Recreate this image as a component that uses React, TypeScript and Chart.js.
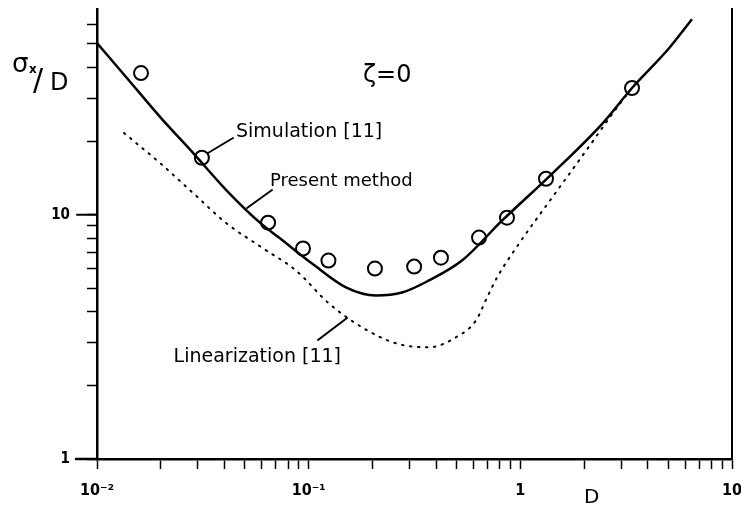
import React, { useEffect, useRef } from 'react';
import { Chart, registerables } from 'chart.js';
Chart.register(...registerables);

const W = 741;
const H = 513;

// Simulation [11] (circles)
const simD = [0.01614, 0.0313, 0.0643, 0.094, 0.124, 0.2056, 0.315, 0.4217, 0.638, 0.865, 1.322, 3.37];
const simSigma = [38.0, 17.1, 9.28, 7.27, 6.49, 6.02, 6.13, 6.67, 8.06, 9.72, 14.03, 33.0];

// Present method (solid line)
const presentD = [0.01, 0.01387, 0.02004, 0.0287, 0.0411, 0.0596, 0.0724, 0.1038, 0.15, 0.208, 0.276, 0.37, 0.53, 0.819, 1.411, 2.43, 3.37, 5.04, 6.47];
const presentSigma = [50.4, 36.2, 24.9, 17.74, 12.53, 9.19, 8.06, 6.31, 5.04, 4.67, 4.8, 5.38, 6.49, 9.45, 14.7, 23.5, 33.0, 48.0, 63.1];

// Linearization [11] (dotted line)
const linD = [0.01342, 0.02004, 0.0287, 0.0411, 0.0602, 0.0871, 0.1247, 0.1787, 0.2587, 0.37, 0.4966, 0.617, 0.696, 0.776, 0.9856, 1.411, 2.042, 2.83, 3.37];
const linSigma = [21.6, 16.15, 12.18, 9.19, 7.33, 5.91, 4.33, 3.46, 2.975, 2.865, 3.15, 3.69, 4.58, 5.53, 7.61, 11.73, 18.25, 27.1, 33.0];

const xTickLabels: Record<string, string> = { '0.01': '10⁻²', '0.1': '10⁻¹', '1': '1', '10': '10' };
const yTickLabels: Record<string, string> = { '1': '1', '10': '10' };

const isNice = (v: number) => {
  const e = Math.floor(Math.log10(v) + 1e-9);
  const m = v / Math.pow(10, e);
  return Math.abs(m - Math.round(m)) < 1e-6;
};
const keyOf = (v: number) => String(parseFloat(v.toPrecision(6)));

const FONT = '"DejaVu Sans", sans-serif';
const TICKFONT = '"DejaVu Sans Condensed", "DejaVu Sans", sans-serif';

const zeroPad = (s: any) => {
  s.paddingLeft = 0;
  s.paddingRight = 0;
  s.paddingTop = 0;
  s.paddingBottom = 0;
};

const overlayPlugin = {
  id: 'overlay',
  afterDraw(chart: any) {
    const { ctx, chartArea, scales } = chart;
    const y = scales.y;
    ctx.save();
    ctx.strokeStyle = '#000';
    ctx.fillStyle = '#000';
    ctx.lineCap = 'round';
    // x-axis extension left of y-axis
    ctx.lineWidth = 2.5;
    ctx.beginPath();
    ctx.moveTo(76, y.getPixelForValue(1));
    ctx.lineTo(chartArea.left, y.getPixelForValue(1));
    ctx.stroke();
    // longer major tick at 10
    ctx.lineWidth = 2;
    ctx.beginPath();
    ctx.moveTo(77, y.getPixelForValue(10));
    ctx.lineTo(chartArea.left, y.getPixelForValue(10));
    ctx.stroke();

    // leader lines
    ctx.lineWidth = 2;
    const leaders = [
      [208, 153, 233, 138],
      [247, 208, 272, 190],
      [318, 340, 347, 318],
    ];
    leaders.forEach(([a, b, c, d]) => {
      ctx.beginPath();
      ctx.moveTo(a, b);
      ctx.lineTo(c, d);
      ctx.stroke();
    });

    // annotation texts
    ctx.textBaseline = 'alphabetic';
    ctx.textAlign = 'left';
    ctx.font = `19px ${FONT}`;
    ctx.fillText('Simulation [11]', 236, 137);
    ctx.font = `18px ${FONT}`;
    ctx.fillText('Present method', 270, 186);
    ctx.font = `19px ${FONT}`;
    ctx.textAlign = 'right';
    ctx.fillText('Linearization [11]', 341, 362);
    ctx.textAlign = 'left';
    ctx.font = `24px ${FONT}`;
    ctx.fillText('ζ=0', 363, 82);

    // y axis title  σx / D
    ctx.font = `26px ${FONT}`;
    ctx.fillText('σ', 12, 72);
    ctx.font = `bold 12px ${FONT}`;
    ctx.fillText('x', 29, 73);
    ctx.font = `30px ${FONT}`;
    ctx.fillText('/', 33, 90);
    ctx.font = `24px ${FONT}`;
    ctx.fillText('D', 50, 90);

    // x axis title
    ctx.font = `20px ${FONT}`;
    ctx.fillText('D', 584, 503);
    ctx.restore();
  },
};

export default function App() {
  const ref = useRef<HTMLCanvasElement>(null);
  useEffect(() => {
    const tickCol = (c: any) => (c.tick && isNice(c.tick.value) ? '#000' : 'rgba(0,0,0,0)');
    const chart = new Chart(ref.current as HTMLCanvasElement, {
      type: 'scatter',
      data: {
        datasets: [
          {
            label: 'Present method',
            data: presentD.map((d, i) => ({ x: d, y: presentSigma[i] })),
            showLine: true,
            borderColor: '#000',
            borderWidth: 2.5,
            pointRadius: 0,
            cubicInterpolationMode: 'monotone',
            fill: false,
          },
          {
            label: 'Linearization [11]',
            data: linD.map((d, i) => ({ x: d, y: linSigma[i] })),
            showLine: true,
            borderColor: '#000',
            borderWidth: 2,
            borderDash: [1.5, 6.5],
            borderCapStyle: 'round',
            pointRadius: 0,
            cubicInterpolationMode: 'monotone',
            fill: false,
          },
          {
            label: 'Simulation [11]',
            data: simD.map((d, i) => ({ x: d, y: simSigma[i] })),
            showLine: false,
            pointStyle: 'circle',
            pointRadius: 7,
            pointBorderWidth: 2,
            pointBorderColor: '#000',
            pointBackgroundColor: 'rgba(0,0,0,0)',
          },
        ],
      },
      options: {
        animation: false,
        responsive: false,
        devicePixelRatio: 1,
        layout: { padding: { top: 7, right: 8, left: 0, bottom: 0 } },
        plugins: { legend: { display: false }, tooltip: { enabled: false }, title: { display: false } },
        scales: {
          x: {
            type: 'logarithmic',
            position: 'bottom',
            min: 0.01,
            max: 10,
            afterFit: (s: any) => { s.height = 54; zeroPad(s); },
            grid: {
              display: true,
              drawOnChartArea: false,
              drawTicks: true,
              tickLength: 10,
              color: tickCol,
              tickColor: tickCol,
              tickWidth: 1.5,
            },
            border: { display: true, color: '#000', width: 2.5 },
            ticks: {
              autoSkip: false,
              maxRotation: 0,
              padding: 12,
              color: '#000',
              font: { family: TICKFONT, weight: 'bold', size: 16 },
              callback: (v: any) => xTickLabels[keyOf(Number(v))] ?? '',
            },
          },
          y: {
            type: 'logarithmic',
            position: 'left',
            min: 1,
            max: 69.5,
            afterFit: (s: any) => { s.width = 97; zeroPad(s); },
            grid: {
              display: true,
              drawOnChartArea: false,
              drawTicks: true,
              tickLength: 10,
              color: tickCol,
              tickColor: tickCol,
              tickWidth: 1.5,
            },
            border: { display: true, color: '#000', width: 2.5 },
            ticks: {
              autoSkip: false,
              padding: 17,
              color: '#000',
              font: { family: TICKFONT, weight: 'bold', size: 15 },
              callback: (v: any) => yTickLabels[keyOf(Number(v))] ?? '',
            },
          },
          y2: {
            type: 'linear',
            position: 'right',
            min: 0,
            max: 1,
            afterFit: (s: any) => { s.width = 0; zeroPad(s); },
            grid: { display: false, drawTicks: false },
            ticks: { display: false },
            border: { display: true, color: '#000', width: 2 },
          },
        },
      } as any,
      plugins: [overlayPlugin],
    });
    return () => chart.destroy();
  }, []);
  return (
    <div style={{ position: 'absolute', left: 0, top: 0, width: W, height: H, background: '#fff' }}>
      <canvas ref={ref} width={W} height={H} style={{ display: 'block', width: W, height: H }} />
    </div>
  );
}
